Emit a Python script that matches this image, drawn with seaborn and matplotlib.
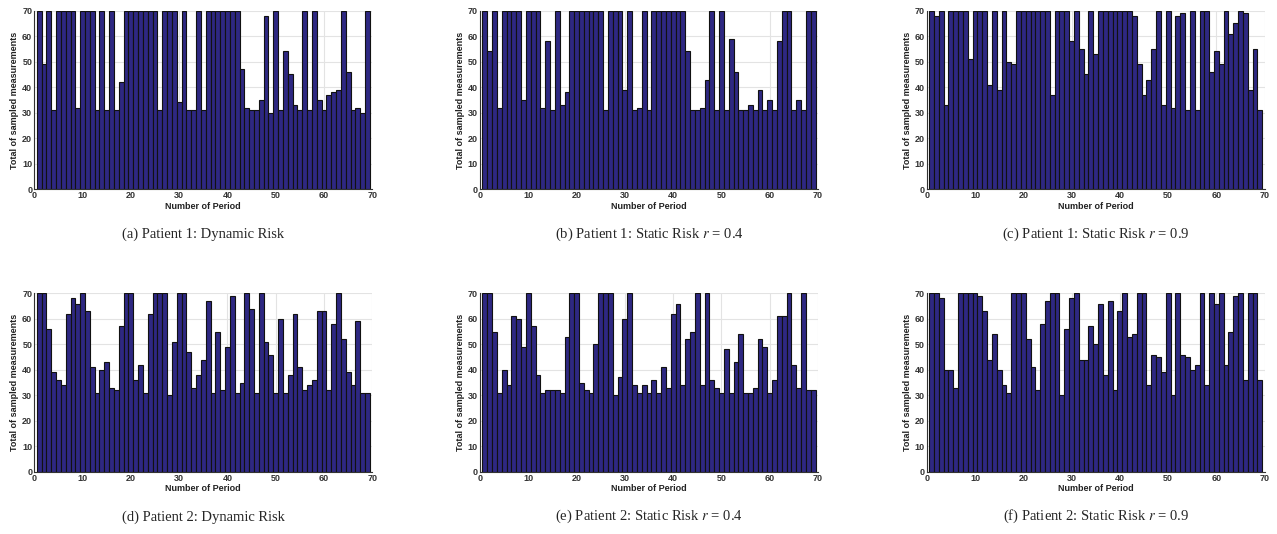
import matplotlib
matplotlib.use('Agg')
import matplotlib.pyplot as plt
import seaborn as sns
import pandas as pd

# number of period 1..69
periods = list(range(1, 70))

p1_dynamic = [70, 49, 70, 31, 70, 70, 70, 70, 32, 70, 70, 70, 31, 70, 31, 70, 31, 42, 70, 70,
              70, 70, 70, 70, 70, 31, 70, 70, 70, 34, 70, 31, 31, 70, 31, 70, 70, 70, 70, 70,
              70, 70, 47, 32, 31, 31, 35, 68, 30, 70, 31, 54, 45, 33, 31, 70, 31, 70, 35, 31,
              37, 38, 39, 70, 46, 31, 32, 30, 70]
p1_static_04 = [70, 54, 70, 32, 70, 70, 70, 70, 35, 70, 70, 70, 32, 58, 31, 70, 33, 38, 70, 70,
                70, 70, 70, 70, 70, 31, 70, 70, 70, 39, 70, 31, 32, 70, 31, 70, 70, 70, 70, 70,
                70, 70, 54, 31, 31, 32, 43, 70, 31, 70, 31, 59, 46, 31, 31, 33, 31, 39, 31, 35,
                31, 58, 70, 70, 31, 35, 31, 70, 70]
p1_static_09 = [70, 68, 70, 33, 70, 70, 70, 70, 51, 70, 70, 70, 41, 70, 39, 70, 50, 49, 70, 70,
                70, 70, 70, 70, 70, 37, 70, 70, 70, 58, 70, 55, 45, 70, 53, 70, 70, 70, 70, 70,
                70, 70, 68, 49, 37, 43, 55, 70, 33, 70, 32, 68, 69, 31, 70, 31, 70, 70, 46, 54,
                49, 70, 61, 65, 70, 69, 39, 55, 31]
p2_dynamic = [70, 70, 56, 39, 36, 34, 62, 68, 66, 70, 63, 41, 31, 40, 43, 33, 32, 57, 70, 70,
              36, 42, 31, 62, 70, 70, 70, 30, 51, 70, 70, 47, 33, 38, 44, 67, 31, 55, 32, 49,
              69, 31, 35, 70, 64, 31, 70, 51, 46, 31, 60, 31, 38, 62, 41, 32, 34, 36, 63, 63,
              32, 58, 70, 52, 39, 34, 59, 31, 31]
p2_static_04 = [70, 70, 55, 31, 40, 34, 61, 60, 49, 70, 57, 38, 31, 32, 32, 32, 31, 53, 70, 70,
                35, 32, 31, 50, 70, 70, 70, 30, 37, 60, 70, 34, 31, 34, 31, 36, 31, 41, 33, 62,
                66, 34, 52, 55, 70, 34, 70, 36, 33, 31, 48, 31, 43, 54, 31, 31, 33, 52, 49, 31,
                36, 61, 61, 70, 42, 33, 70, 32, 32]
p2_static_09 = [70, 70, 68, 40, 40, 33, 70, 70, 70, 70, 69, 63, 44, 54, 40, 34, 31, 70, 70, 70,
                52, 41, 32, 58, 67, 70, 70, 30, 56, 68, 70, 44, 44, 57, 50, 66, 38, 67, 32, 63,
                70, 53, 54, 70, 70, 34, 46, 45, 39, 70, 30, 70, 46, 45, 40, 42, 70, 34, 70, 66,
                70, 42, 55, 69, 70, 36, 70, 70, 36]

panels = [
    (p1_dynamic, '(a) Patient 1: Dynamic Risk'),
    (p1_static_04, '(b) Patient 1: Static Risk $r$ = 0.4'),
    (p1_static_09, '(c) Patient 1: Static Risk $r$ = 0.9'),
    (p2_dynamic, '(d) Patient 2: Dynamic Risk'),
    (p2_static_04, '(e) Patient 2: Static Risk $r$ = 0.4'),
    (p2_static_09, '(f) Patient 2: Static Risk $r$ = 0.9'),
]

sns.set_style('whitegrid')
plt.rcParams['font.family'] = ['Liberation Sans', 'DejaVu Sans']
plt.rcParams['mathtext.fontset'] = 'stix'

W, H = 1277, 534
fig = plt.figure(figsize=(W / 100, H / 100), dpi=100)

lefts = [34.3, 480.0, 926.7]
tops = [10.7, 293.3]
aw, ah = 338.0, 178.5

bar_color = '#2e2882'

for i, (vals, caption) in enumerate(panels):
    row, col = divmod(i, 3)
    l, t = lefts[col], tops[row]
    ax = fig.add_axes([l / W, 1 - (t + ah) / H, aw / W, ah / H])
    df = pd.DataFrame({'period': periods, 'total': vals})
    sns.barplot(data=df, x='period', y='total', native_scale=True, width=1,
                color=bar_color, saturation=1, edgecolor='#111111', linewidth=0.8,
                errorbar=None, ax=ax)
    ax.set_xlim(0, 70)
    ax.set_ylim(0, 70)
    ax.set_xticks(range(0, 71, 10))
    ax.set_yticks(range(0, 71, 10))
    ax.grid(True, color='#e3e3e3', linewidth=0.8)
    ax.set_axisbelow(True)
    for s in ['top', 'right']:
        ax.spines[s].set_visible(False)
    for s in ['left', 'bottom']:
        ax.spines[s].set_color('#333333')
        ax.spines[s].set_linewidth(0.8)
    ax.tick_params(labelsize=6.5, length=0, pad=1.5, colors='#333333')
    for lab in ax.get_xticklabels() + ax.get_yticklabels():
        lab.set_fontweight('bold')
    ax.set_xlabel('Number of Period', fontsize=6.5, fontweight='bold', labelpad=1, color='#222222')
    ax.set_ylabel('Total of sampled measurements', fontsize=6.5, fontweight='bold',
                  labelpad=2, color='#222222')
    fig.text((l + aw / 2) / W, 1 - (t + ah + 45) / H, caption, ha='center', va='center',
             fontsize=10.5, family='Liberation Serif')

fig.savefig('out.png', dpi=100)
